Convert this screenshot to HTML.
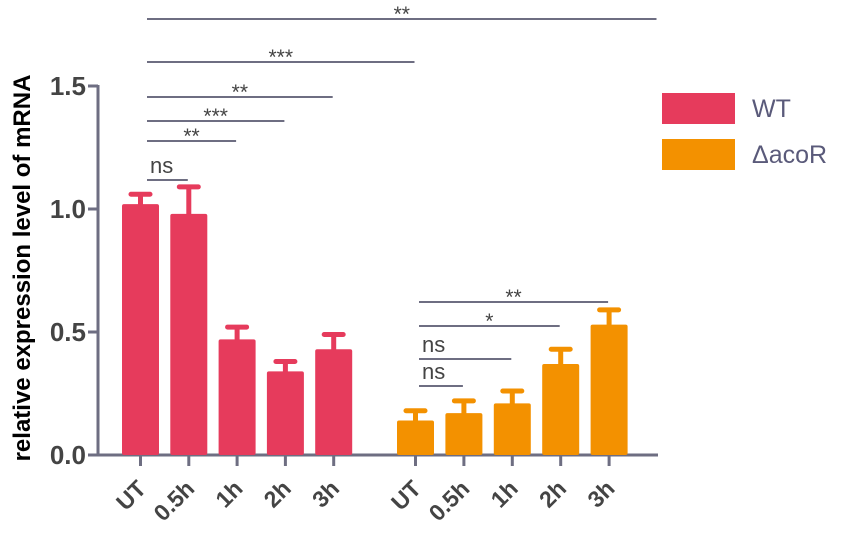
<!DOCTYPE html>
<html><head><meta charset="utf-8"><style>
body{margin:0;background:#fff;}
svg{display:block;font-family:"Liberation Sans",sans-serif;}
</style></head><body>
<svg id="chart" width="851" height="535"></svg>
<script>
const groups = ["WT", "ΔacoR"];
const categories = ["UT", "0.5h", "1h", "2h", "3h"];
const wtValues = [1.02, 0.98, 0.47, 0.34, 0.43];
const wtErrors = [0.04, 0.11, 0.05, 0.04, 0.06];
const koValues = [0.14, 0.17, 0.21, 0.37, 0.53];
const koErrors = [0.04, 0.05, 0.05, 0.06, 0.06];
const yTicks = [0.0, 0.5, 1.0, 1.5];
const wtSig = [["ns",1,180],["**",2,141],["***",3,121],["**",4,97],["***",5,62],["**",10,19]];
const koSig = [["ns",1,386],["ns",2,359],["*",3,326],["**",4,302]];
const colors = ["#e63b5c", "#f39100"];
const NS = "http://www.w3.org/2000/svg";
const svg = document.getElementById("chart");
const y0 = 455, pxPerUnit = 246;
const yScale = v => y0 - v * pxPerUnit;
const xCenter = i => i < 5 ? 140.5 + i * 48.3 : 415.5 + (i - 5) * 48.4;
const barW = 37;
function mk(tag, attrs, parent) {
  const e = document.createElementNS(NS, tag);
  for (const k in attrs) e.setAttribute(k, attrs[k]);
  (parent || svg).appendChild(e);
  return e;
}
const axisColor = "#6e6e82";
let yAxis = mk("line", {x1:98, y1:85, x2:98, y2:456, stroke:axisColor, "stroke-width":3});


let xAxis = mk("line", {x1:88, y1:455, x2:658, y2:455, stroke:axisColor, "stroke-width":3});


yTicks.forEach(t => {
  const y = yScale(t);
  const tk = mk("line", {x1:88, y1:y, x2:98, y2:y, stroke:axisColor, "stroke-width":3});
  
  
  const tl = mk("text", {x:86, y:y+9, "text-anchor":"end", "font-size":26, "font-weight":"bold", fill:"#444"});
  tl.textContent = t.toFixed(1);
  
  
});
const yTitle = mk("text", {x:0, y:0, transform:"translate(30,268) rotate(-90)", "text-anchor":"middle", "font-size":24, "font-weight":"bold", fill:"#000"});
yTitle.textContent = "relative expression level of mRNA";


function drawSeries(vals, errs, offset, color) {
  vals.forEach((v, i) => {
    const cx = xCenter(i + offset);
    const top = yScale(v), et = yScale(v + errs[i]);
    const el = mk("line", {x1:cx, y1:et, x2:cx, y2:top+2, stroke:color, "stroke-width":5});
    
    
    const cap = mk("rect", {x:cx-12, y:et-2.5, width:24, height:5, rx:2.5, fill:color});
    
    
    const b = mk("rect", {x:cx-barW/2, y:top, width:barW, height:y0-top, rx:2, fill:color});
    
    
    const tk = mk("line", {x1:cx, y1:455, x2:cx, y2:466, stroke:axisColor, "stroke-width":3});
    
    
    const lb = mk("text", {x:0, y:0, transform:`translate(${cx+7},${490}) rotate(-45)`, "text-anchor":"end", "font-size":23, "font-weight":"bold", fill:"#444"});
    lb.textContent = categories[i];
    
    
  });
}
drawSeries(wtValues, wtErrors, 0, colors[0]);
drawSeries(koValues, koErrors, 5, colors[1]);
function drawSig(list, start, startX) {
  list.forEach(s => {
    const x1 = startX, x2 = xCenter(start + s[1]) - 1, y = s[2];
    const l = mk("line", {x1:x1, y1:y, x2:x2, y2:y, stroke:"#6e6e82", "stroke-width":2});
    
    
    const isNs = s[0] === "ns";
    const t = mk("text", {x: isNs ? x1 + 3 : (x1+x2)/2, y: isNs ? y-7 : y+2, "text-anchor": isNs ? "start" : "middle", "font-size": isNs ? 22 : 21, fill:"#444"});
    t.textContent = s[0];
    
    
  });
}
drawSig(wtSig, 0, 147);
drawSig(koSig, 5, 419);
groups.forEach((g, i) => {
  const y = 93 + i * 46;
  const r = mk("rect", {x:662, y:y, width:73, height:31, fill:colors[i]});
  
  
  const t = mk("text", {x:752, y:y+24, "font-size":25, fill:"#5a5a7a"});
  t.textContent = g;
  
  
});
</script>
</body></html>
